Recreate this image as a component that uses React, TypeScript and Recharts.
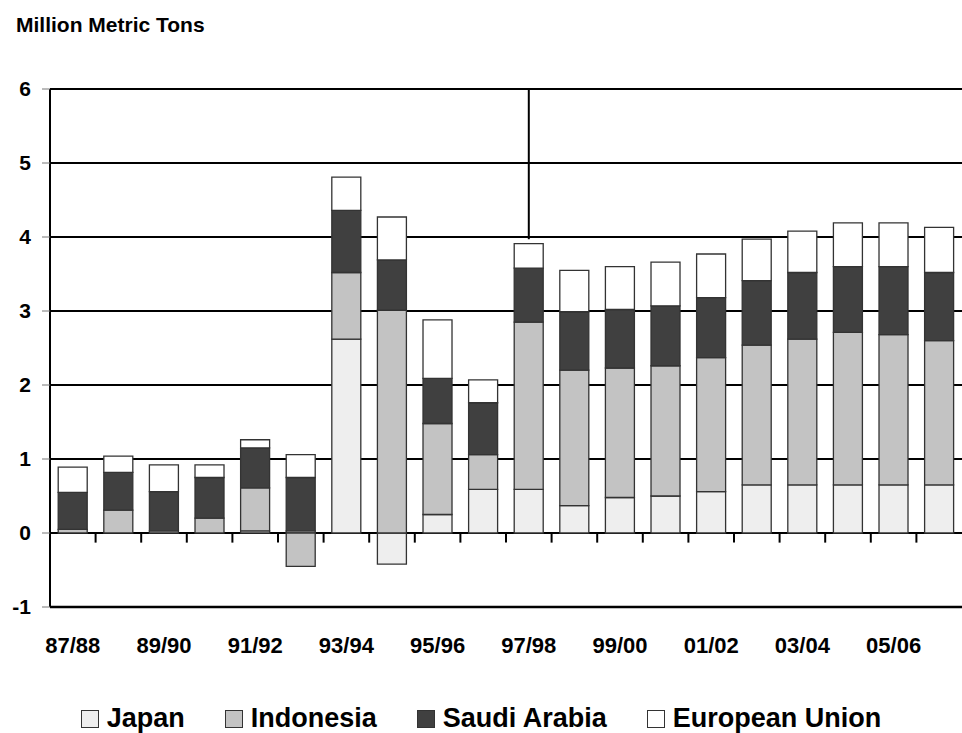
import { BarChart, Bar, XAxis, YAxis, CartesianGrid, ReferenceLine } from 'recharts'

const seasons = [
  '87/88', '88/89', '89/90', '90/91', '91/92', '92/93', '93/94', '94/95', '95/96', '96/97',
  '97/98', '98/99', '99/00', '00/01', '01/02', '02/03', '03/04', '04/05', '05/06', '06/07',
]
const japan = [0, 0, 0, 0, 0.03, 0.03, 2.62, -0.42, 0.25, 0.59, 0.59, 0.37, 0.48, 0.5, 0.56, 0.65, 0.65, 0.65, 0.65, 0.65]
const indonesia = [0.05, 0.31, 0.03, 0.2, 0.58, -0.45, 0.9, 3.01, 1.23, 0.47, 2.26, 1.83, 1.75, 1.76, 1.81, 1.89, 1.97, 2.06, 2.03, 1.95]
const saudiArabia = [0.5, 0.51, 0.53, 0.55, 0.54, 0.72, 0.84, 0.68, 0.61, 0.7, 0.73, 0.79, 0.79, 0.81, 0.81, 0.87, 0.9, 0.89, 0.92, 0.92]
const europeanUnion = [0.34, 0.22, 0.36, 0.17, 0.11, 0.31, 0.45, 0.58, 0.79, 0.31, 0.33, 0.56, 0.58, 0.59, 0.59, 0.56, 0.56, 0.59, 0.59, 0.61]
const yTicks = [-1, 0, 1, 2, 3, 4, 5, 6]

const series = [
  { key: 'japan', name: 'Japan', color: '#EEEEEE' },
  { key: 'indonesia', name: 'Indonesia', color: '#C3C3C3' },
  { key: 'saudi', name: 'Saudi Arabia', color: '#404040' },
  { key: 'eu', name: 'European Union', color: '#FFFFFF' },
]

const data = seasons.map((s, i) => ({
  season: s,
  japan: japan[i],
  indonesia: indonesia[i],
  saudi: saudiArabia[i],
  eu: europeanUnion[i],
}))

const font = '"Liberation Sans", Arial, sans-serif'
const tickStyle = { fill: '#000', fontSize: 21, fontWeight: 700, fontFamily: font }

export default function App() {
  return (
    <div style={{ position: 'absolute', left: 0, top: 0, width: 962, height: 733, fontFamily: font }}>
      <div
        style={{
          position: 'absolute',
          left: 16,
          top: 14,
          fontSize: 21,
          lineHeight: '21px',
          fontWeight: 700,
          color: '#000',
        }}
      >
        Million Metric Tons
      </div>
      <BarChart
        width={962}
        height={733}
        data={data}
        stackOffset="sign"
        barCategoryGap="18%"
        margin={{ top: 89, right: 0, left: 0, bottom: 66 }}
      >
        <CartesianGrid horizontal vertical={false} stroke="#000" strokeWidth={2} />
        <XAxis
          dataKey="season"
          interval={1}
          tickLine={false}
          tickSize={0}
          tickMargin={30}
          height={60}
          axisLine={{ stroke: '#000', strokeWidth: 2.5 }}
          tick={{ ...tickStyle, fontSize: 22 }}
        />
        <YAxis
          type="number"
          domain={[-1, 6]}
          ticks={yTicks}
          width={50}
          tickSize={8}
          tickMargin={11}
          tickLine={{ stroke: '#777' }}
          axisLine={{ stroke: '#000', strokeWidth: 2 }}
          tick={tickStyle}
        />
        {series.map((s) => (
          <Bar
            key={s.key}
            dataKey={s.key}
            name={s.name}
            stackId="a"
            fill={s.color}
            stroke="#333"
            strokeWidth={1.3}
            isAnimationActive={false}
          />
        ))}
        {seasons.slice(1).map((s) => (
          <ReferenceLine
            key={'t' + s}
            segment={[{ x: s, y: 0 }, { x: s, y: -0.13 }]}
            position="start"
            stroke="#000"
            strokeWidth={2}
          />
        ))}
        <ReferenceLine
          segment={[{ x: '97/98', y: 6 }, { x: '97/98', y: 3.97 }]}
          stroke="#000"
          strokeWidth={2}
        />
      </BarChart>
      <div
        style={{
          position: 'absolute',
          left: 0,
          top: 705,
          width: 962,
          display: 'flex',
          justifyContent: 'center',
          gap: 40,
          fontSize: 27,
          lineHeight: '27px',
          fontWeight: 700,
          color: '#000',
        }}
      >
        {series.map((s) => (
          <div key={s.key} style={{ display: 'flex', alignItems: 'center', gap: 8 }}>
            <span
              style={{
                display: 'inline-block',
                width: 16,
                height: 16,
                background: s.color,
                border: '1px solid #333',
              }}
            />
            <span>{s.name}</span>
          </div>
        ))}
      </div>
    </div>
  )
}
